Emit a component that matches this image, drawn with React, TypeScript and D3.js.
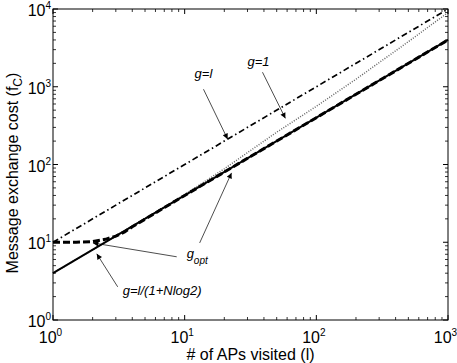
import * as d3 from 'd3'

// number of APs visited (l) and message exchange cost for each policy
const lSteps = [1, 10, 100, 1000]
const costLinear = [10, 100, 1000, 10000] // g = l
const costNlog = [4, 40, 400, 4000] // g = l/(1+Nlog2)

const lDotted = [1, 2, 5, 10, 20, 50, 100, 200, 500, 1000]
const costUnit = [4, 8, 20.2, 41, 88, 260, 560, 1250, 3800, 9000] // g = 1

const lOpt = [1, 1.5, 2, 2.5, 3, 3.5, 4, 5, 10, 100, 1000]
const costOpt = [10, 10, 10.2, 10.9, 12, 13.6, 15.8, 19.8, 40, 400, 4000] // g_opt

const decades = [0, 1, 2, 3]
const yDecades = [0, 1, 2, 3, 4]

const W = 457
const H = 363
const margin = { left: 53, right: 9, top: 9, bottom: 43 }
const font = 'Liberation Sans, Arial, Helvetica, sans-serif'

const x = d3.scaleLog().domain([1, 1000]).range([margin.left, W - margin.right])
const y = d3.scaleLog().domain([1, 10000]).range([H - margin.bottom, margin.top])

const minorTicks = (exps: number[]) => {
  const out: number[] = []
  exps.slice(0, -1).forEach(e => {
    for (let m = 2; m <= 9; m++) out.push(m * Math.pow(10, e))
  })
  return out
}

const line = (ls: number[], cs: number[]) =>
  d3.line<number>().x((_, i) => x(ls[i])).y(c => y(c))(cs) ?? ''

// annotation arrows, in data coordinates: [l0, f0, l1, f1]
const arrows: [number, number, number, number][] = [
  [13.9, 929, 21.2, 212],
  [39, 1538, 58.2, 392],
  [8.7, 6.5, 2.01, 9.8],
  [13, 9.8, 22.7, 78],
  [3.1, 2.67, 2.15, 7.1],
]

export default function App() {
  const [x0, x1] = x.range()
  const [yb, yt] = y.range()
  return (
    <svg width={W} height={H} style={{ position: 'absolute', left: 0, top: 0, background: '#fff' }}
      fontFamily={font}>
      <defs>
        <marker id="head" viewBox="0 0 10 10" refX="10" refY="5" markerWidth="8" markerHeight="5.5"
          markerUnits="userSpaceOnUse" orient="auto">
          <path d="M0,0 L10,5 L0,10 z" fill="#000" />
        </marker>
      </defs>

      {/* curves */}
      <path d={line(lDotted, costUnit)} fill="none" stroke="#666" strokeWidth={1.5} strokeDasharray="1,1.5" />
      <path d={line(lSteps, costLinear)} fill="none" stroke="#000" strokeWidth={1.7} strokeDasharray="6,3,1.5,3" />
      <path d={line(lSteps, costNlog)} fill="none" stroke="#000" strokeWidth={2} />
      <path d={line(lOpt, costOpt)} fill="none" stroke="#000" strokeWidth={3} strokeDasharray="7,3" />

      {/* box and ticks */}
      <rect x={x0} y={yt} width={x1 - x0} height={yb - yt} fill="none" stroke="#000" strokeWidth={1} />
      {decades.map(e => {
        const px = x(Math.pow(10, e))
        return (
          <g key={'xm' + e}>
            <line x1={px} x2={px} y1={yb} y2={yb - 5} stroke="#000" />
            <line x1={px} x2={px} y1={yt} y2={yt + 5} stroke="#000" />
          </g>
        )
      })}
      {minorTicks(decades).map(v => (
        <g key={'xn' + v}>
          <line x1={x(v)} x2={x(v)} y1={yb} y2={yb - 3} stroke="#000" strokeWidth={0.8} />
          <line x1={x(v)} x2={x(v)} y1={yt} y2={yt + 3} stroke="#000" strokeWidth={0.8} />
        </g>
      ))}
      {yDecades.map(e => {
        const py = y(Math.pow(10, e))
        return (
          <g key={'ym' + e}>
            <line x1={x0} x2={x0 + 5} y1={py} y2={py} stroke="#000" />
            <line x1={x1} x2={x1 - 5} y1={py} y2={py} stroke="#000" />
          </g>
        )
      })}
      {minorTicks(yDecades).map(v => (
        <g key={'yn' + v}>
          <line x1={x0} x2={x0 + 3} y1={y(v)} y2={y(v)} stroke="#000" strokeWidth={0.8} />
          <line x1={x1} x2={x1 - 3} y1={y(v)} y2={y(v)} stroke="#000" strokeWidth={0.8} />
        </g>
      ))}

      {/* tick labels */}
      {decades.map(e => (
        <text key={'xl' + e} x={x(Math.pow(10, e)) - 2.5} y={yb + 23} textAnchor="middle" fontSize={16}>
          10<tspan fontSize={10} dy={-7}>{e}</tspan>
        </text>
      ))}
      {yDecades.map(e => (
        <text key={'yl' + e} x={x0 - 2} y={y(Math.pow(10, e)) + 7} textAnchor="end" fontSize={16}>
          10<tspan fontSize={10} dy={-7}>{e}</tspan>
        </text>
      ))}

      {/* axis titles */}
      <text x={(x0 + x1) / 2} y={H - 3} textAnchor="middle" fontSize={16}># of APs visited (l)</text>
      <text transform={`translate(18,173) rotate(-90)`} textAnchor="middle" fontSize={16}>
        Message exchange cost (f<tspan fontSize={12} dy={4}>C</tspan><tspan dy={-4}>)</tspan>
      </text>

      {/* annotations */}
      {arrows.map((a, i) => (
        <line key={'ar' + i} x1={x(a[0])} y1={y(a[1])} x2={x(a[2])} y2={y(a[3])}
          stroke="#000" strokeWidth={0.7} markerEnd="url(#head)" />
      ))}
      <text x={x(11.9)} y={y(1290)} fontSize={13} fontStyle="italic">g=l</text>
      <text x={x(36.4)} y={y(1840)} fontSize={13} fontStyle="italic" textAnchor="middle">g=1</text>
      <text x={x(10.35)} y={y(6.3)} fontSize={13} fontStyle="italic">
        g<tspan fontSize={10} dy={6}>opt</tspan>
      </text>
      <text x={x(3.39)} y={y(2.1)} fontSize={13} fontStyle="italic">g=l/(1+Nlog2)</text>
    </svg>
  )
}
